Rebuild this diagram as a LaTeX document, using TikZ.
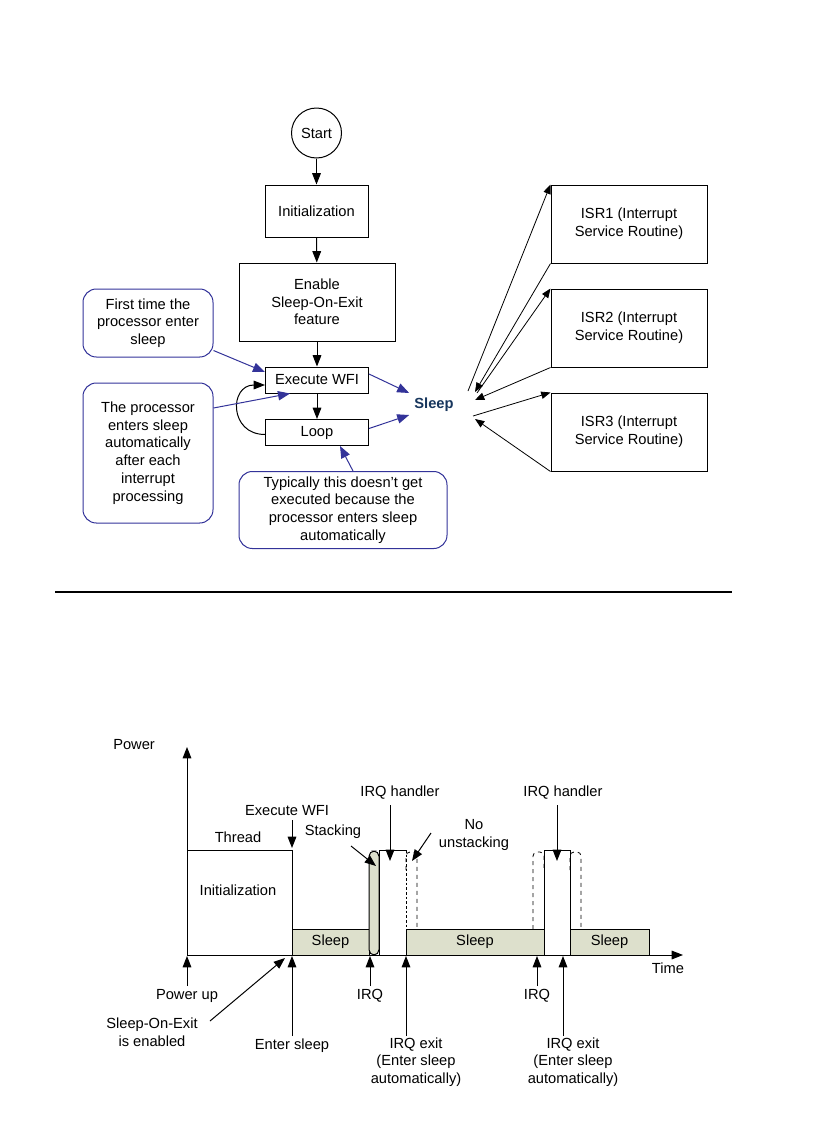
\documentclass[tikz,border=0pt]{standalone}
\usepackage{fontspec}
\setmainfont{Liberation Sans}
\usetikzlibrary{arrows.meta,calc}
\definecolor{callblue}{RGB}{51,51,153}
\definecolor{sleepblue}{RGB}{23,54,93}
\definecolor{sleepfill}{RGB}{221,224,204}
\begin{document}
\begin{tikzpicture}[x=0.75pt,y=-0.75pt,
  font=\fontsize{11}{13.3}\selectfont,
  box/.style={draw, line width=0.75pt, inner sep=0pt, align=center},
  callout/.style={draw=callblue, rounded corners=10pt, line width=0.75pt, inner sep=0pt, align=center},
  arr/.style={-{Triangle[length=8.5pt,width=6.5pt]}, line width=0.75pt},
  blarr/.style={draw=callblue, -{Triangle[length=9pt,width=7pt]}, line width=0.75pt},
  thinarr/.style={-{Triangle[length=7pt,width=5.5pt]}, line width=0.6pt},
  lbl/.style={inner sep=0pt, align=center},
  sleepbox/.style={draw, fill=sleepfill, line width=0.75pt}
]
\useasboundingbox (0,0) rectangle (834,1128);

% ---------------- Flowchart ----------------
\node[box, circle, minimum size=37.5pt] (start) at (316.5,133) {Start};
\node[box, minimum width=77.25pt, minimum height=39pt] (init) at (316.5,211) {Initialization};
\node[box, minimum width=117pt, minimum height=58.5pt] (enable) at (317,302) {Enable\\Sleep-On-Exit\\feature};
\node[box, minimum width=77.25pt, minimum height=19.5pt] (wfi) at (317,380) {Execute WFI};
\node[box, minimum width=77.25pt, minimum height=19.5pt] (loop) at (317,432.5) {Loop};
\node[lbl, text=sleepblue, font=\fontsize{11}{13.3}\selectfont\bfseries] (sleep) at (434,405) {Sleep};

\node[box, minimum width=117pt, minimum height=58.5pt] (isr1) at (629,224) {ISR1 (Interrupt\\Service Routine)};
\node[box, minimum width=117pt, minimum height=58.5pt] (isr2) at (629,328) {ISR2 (Interrupt\\Service Routine)};
\node[box, minimum width=117pt, minimum height=58.5pt] (isr3) at (629,432) {ISR3 (Interrupt\\Service Routine)};

\node[callout, minimum width=97.5pt, minimum height=51pt] (c1) at (148,323) {First time the\\processor enter\\sleep};
\node[callout, minimum width=97.5pt, minimum height=105pt] (c2) at (148,453) {The processor\\enters sleep\\automatically\\after each\\interrupt\\processing};
\node[callout, minimum width=156pt, minimum height=57.75pt] (c3) at (343,510) {Typically this doesn’t get\\executed because the\\processor enters sleep\\automatically};

\draw[arr] (start) -- (init);
\draw[arr] (init) -- (enable);
\draw[arr] (enable) -- (wfi);
\draw[arr] (wfi) -- (loop);
\draw[arr] ($(loop.west)+(0,2)$) .. controls ($(loop.west)+(-36,2)$) and ($(wfi.west)+(-36,5)$) .. ($(wfi.west)+(0,5)$);

\draw[blarr] ($(c1.south east)+(0,-7)$) -- ($(wfi.west)+(0,-8)$);
\draw[blarr] ($(c2.east)+(0,-45)$) -- ($(wfi.south)+(-27,0)$);
\draw[blarr] ($(wfi.east)+(0,-6)$) -- ($(sleep.west)+(-5,-12)$);
\draw[blarr] ($(loop.east)+(0,-4)$) -- ($(sleep.west)+(-5,10)$);
\draw[blarr] ($(c3.north)+(10,0)$) -- ($(loop.south)+(23,0)$);

\coordinate (s1) at (468,391);
\coordinate (s2) at (475,392);
\coordinate (s3) at (477,393);
\coordinate (s4) at (475,400);
\coordinate (s5) at (473,416);
\coordinate (s6) at (475,419);
\draw[thinarr] (s1) -- (isr1.north west);
\draw[thinarr] (isr1.south west) -- (s2);
\draw[thinarr] (s3) -- (isr2.north west);
\draw[thinarr] (isr2.south west) -- (s4);
\draw[thinarr] (s5) -- (isr3.north west);
\draw[thinarr] (isr3.south west) -- (s6);

% separator
\draw[line width=1.3pt] (55,592) -- (732,592);

% ---------------- Timing chart ----------------
\coordinate (O) at (187,955);
\coordinate (ytop) at (187,747);
\coordinate (xend) at (683,955);

\draw[sleepbox] (292,929) rectangle (369,955);
\draw[sleepbox, rounded corners=4pt] (369,851) rectangle (379,955);
\draw[line width=0.75pt] (379,955) -- (379,850) -- (406,850);
\draw[line width=0.6pt, dashed, dash pattern=on 2pt off 1.5pt] (406,850) -- (406,929);
\draw[line width=0.6pt, dashed, rounded corners=3pt] (406,870) -- (406,852) -- (417,852) -- (417,929);
\draw[sleepbox] (406,929) rectangle (544,955);
\draw[line width=0.6pt, dashed, rounded corners=3pt] (533,929) -- (533,852) -- (544,852) -- (544,870);
\draw[line width=0.75pt] (544,955) -- (544,850) -- (570,850) -- (570,955);
\draw[line width=0.6pt, dashed, rounded corners=3pt] (570,870) -- (570,852) -- (581,852) -- (581,929);
\draw[sleepbox] (570,929) rectangle (649,955);

\node[lbl] (sl1) at (330.5,942) {Sleep};
\node[lbl] (sl2) at (475,942) {Sleep};
\node[lbl] (sl3) at (609.5,942) {Sleep};

\draw[line width=0.75pt] (187,850) -- (292,850) -- (292,955);
\draw[arr] (O) -- (ytop);
\draw[arr] (O) -- (xend);

\node[lbl, anchor=west] (power) at (113,745) {Power};
\node[lbl] (time) at (668,968) {Time};
\node[lbl] (thread) at (238,837) {Thread};
\node[lbl] (initl) at (238,890) {Initialization};
\node[lbl] (ewfi) at (287,811) {Execute WFI};
\node[lbl] (stack) at (333,832) {Stacking};
\node[lbl] (irqh1) at (400,793) {IRQ handler};
\node[lbl] (irqh2) at (563,793) {IRQ handler};
\node[lbl] (nounst) at (474,835) {No\\unstacking};

\coordinate (t1) at (292,848);
\coordinate (t2) at (390,861);
\coordinate (t3) at (557,861);
\coordinate (t4) at (376,866);
\coordinate (t5) at (412,861);
\draw[arr] (292,820) -- (t1);
\draw[arr] (390,805) -- (t2);
\draw[arr] (557,805) -- (t3);
\draw[arr] (351,846) -- (t4);
\draw[arr] (431,833) -- (t5);

% bottom labels
\node[lbl] (pup) at (187,996) {Power up};
\node[lbl] (soe) at (152,1032) {Sleep-On-Exit\\is enabled};
\node[lbl] (esl) at (292,1046) {Enter sleep};
\node[lbl] (irq1) at (370,996) {IRQ};
\node[lbl] (irq2) at (537,996) {IRQ};
\node[lbl] (ex1) at (416,1062) {IRQ exit\\(Enter sleep\\automatically)};
\node[lbl] (ex2) at (573,1062) {IRQ exit\\(Enter sleep\\automatically)};

\coordinate (b1) at (187,956);
\coordinate (b2) at (285,958);
\coordinate (b3) at (292,956);
\coordinate (b4) at (370,956);
\coordinate (b5) at (406,956);
\coordinate (b6) at (537,956);
\coordinate (b7) at (563,956);
\draw[arr] (187,986) -- (b1);
\draw[arr] (210,1021) -- (b2);
\draw[arr] (292,1036) -- (b3);
\draw[arr] (370,986) -- (b4);
\draw[arr] (406,1036) -- (b5);
\draw[arr] (537,986) -- (b6);
\draw[arr] (563,1036) -- (b7);
\end{tikzpicture}
\end{document}
